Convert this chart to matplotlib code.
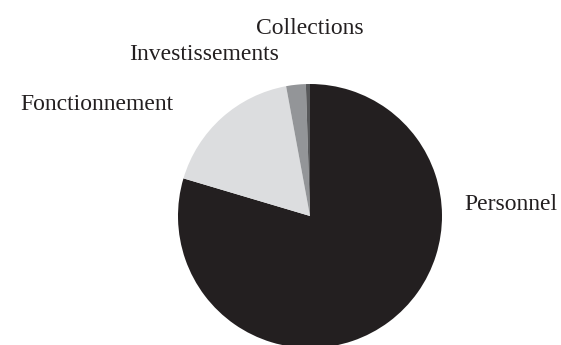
import matplotlib
matplotlib.use("Agg")
import matplotlib.pyplot as plt

categories = ["Personnel", "Fonctionnement", "Investissements", "Collections"]
values = [79.6, 17.5, 2.4, 0.5]
colors = ["#231f20", "#dcdddf", "#939598", "#58595b"]

W, H = 561, 345
fig = plt.figure(figsize=(W / 100, H / 100), dpi=100)
cx, cy, r = 310, 216, 132
ax = fig.add_axes([(cx - r) / W, (H - cy - r) / H, 2 * r / W, 2 * r / H])
ax.pie(values, colors=colors, startangle=90, counterclock=False,
       wedgeprops=dict(linewidth=0))
ax.set_xlim(-1, 1)
ax.set_ylim(-1, 1)
ax.set_aspect("auto")
ax.axis("off")

label_px = {"Collections": (310, 28), "Investissements": (204, 54),
            "Fonctionnement": (97, 104), "Personnel": (511, 205)}
for name in categories:
    px, py = label_px[name]
    ax.text((px - cx) / r, (cy - py) / r, name, ha="center", va="center",
            fontsize=17, family="Liberation Serif", color="#231f20", clip_on=False)

fig.savefig("out.png", dpi=100)
